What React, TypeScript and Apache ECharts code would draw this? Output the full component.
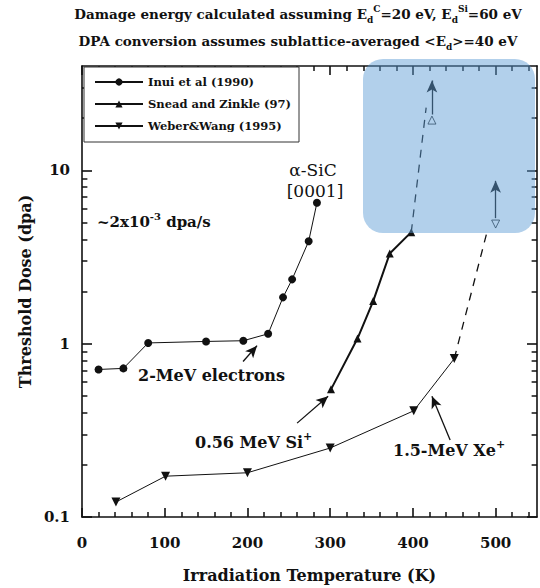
import React, { useEffect, useRef } from "react";
import * as echarts from "echarts";

const FONT = "'DejaVu Serif', 'Liberation Serif', serif";

// Data (temperature K, threshold dose dpa)
const inuiData: [number, number][] = [
  [20, 0.71], [50, 0.72], [80, 1.01], [150, 1.03], [195, 1.04], [225, 1.14],
  [243, 1.85], [254, 2.35], [274, 3.9], [284, 6.5],
];
const sneadData: [number, number][] = [
  [301, 0.545], [333, 1.07], [352, 1.76], [372, 3.31], [398, 4.4],
];
const weberData: [number, number][] = [
  [41, 0.122], [101, 0.172], [200, 0.18], [300, 0.25], [401, 0.41], [450, 0.82],
];
const sneadDashed: [number, number][] = [[398, 4.4], [416, 23]];
const weberDashed: [number, number][] = [[450, 0.82], [489, 4.3]];
const sneadOpen: [number, number][] = [[423, 19.5]];
const weberOpen: [number, number][] = [[500, 4.9]];

const seriesNames = ["Inui et al (1990)", "Snead and Zinkle (97)", "Weber&Wang (1995)"];

const xMajorTicks = [0, 100, 200, 300, 400, 500];
const xMinorTicks = [20, 40, 60, 80, 120, 140, 160, 180, 220, 240, 260, 280, 320, 340, 360, 380, 420, 440, 460, 480, 520, 540];
const yMajorTicks = [0.1, 1, 10];
const yMinorTicks = [0.2, 0.3, 0.4, 0.5, 0.6, 0.7, 0.8, 0.9, 2, 3, 4, 5, 6, 7, 8, 9, 20, 30];

// arrows: [from, to]
const arrowPairs: [[number, number], [number, number]][] = [
  [[423, 21], [423, 33]],
  [[500, 5.3], [500, 8.7]],
  [[194.7, 0.789], [211.6, 0.974]],
  [[260, 0.348], [297.5, 0.497]],
  [[445, 0.278], [423, 0.497]],
];

const X_MIN = 0, X_MAX = 550, Y_MIN = 0.1, Y_MAX = 40;
// minor tick length expressed in data units (x: temperature, y: multiplicative factor on log axis)
const X_TICK_LEN = 6.5;
const Y_TICK_FACTOR = 1.07;

function makeRich(size: number, weight: string) {
  const sm = Math.round(size * 0.66);
  return {
    n: { fontFamily: FONT, fontWeight: weight, fontSize: size, lineHeight: size + 7, fill: "#111", color: "#111" },
    sup: { fontFamily: FONT, fontWeight: weight, fontSize: sm, lineHeight: sm + 2, verticalAlign: "top", fill: "#111", color: "#111" },
    sub: { fontFamily: FONT, fontWeight: weight, fontSize: sm, lineHeight: sm + 2, verticalAlign: "bottom", fill: "#111", color: "#111" },
  };
}

export default function App() {
  const ref = useRef<HTMLDivElement>(null);
  useEffect(() => {
    if (!ref.current) return;
    const chart = echarts.init(ref.current, null, { renderer: "svg" });
    const mkLine = () => ({ show: true, onZero: false, lineStyle: { color: "#111", width: 1.6 } });
    const mkTick = (len: number, vals: number[]) => ({
      show: true, inside: true, length: len, customValues: vals, lineStyle: { color: "#111", width: 1.6 },
    });
    const richTitle = makeRich(13.5, "bold");
    const richLbl = makeRich(16, "bold");
    const richRate = makeRich(15, "bold");

    const minorTickLines: any[] = [];
    xMinorTicks.forEach((v) => {
      minorTickLines.push({ coords: [[v, Y_MIN], [v, Y_MIN * Y_TICK_FACTOR]] });
      minorTickLines.push({ coords: [[v, Y_MAX], [v, Y_MAX / Y_TICK_FACTOR]] });
    });
    yMinorTicks.forEach((v) => {
      minorTickLines.push({ coords: [[X_MIN, v], [X_MIN + X_TICK_LEN, v]] });
      minorTickLines.push({ coords: [[X_MAX, v], [X_MAX - X_TICK_LEN, v]] });
    });

    const option: any = {
      animation: false,
      backgroundColor: "#fff",
      grid: { left: 82, right: 3, top: 66, bottom: 68 },
      legend: {
        data: seriesNames,
        orient: "vertical",
        left: 84,
        top: 67,
        itemWidth: 48,
        itemHeight: 9,
        itemGap: 10,
        padding: [9, 8, 10, 10],
        backgroundColor: "#fff",
        borderColor: "#333",
        borderWidth: 1,
        textStyle: { fontFamily: FONT, fontWeight: "bold", fontSize: 11.5, color: "#111" },
      },
      xAxis: [
        {
          type: "value", min: X_MIN, max: X_MAX, position: "bottom",
          axisLine: mkLine(), splitLine: { show: false },
          axisTick: mkTick(9, xMajorTicks),
          axisLabel: { show: true, customValues: xMajorTicks, margin: 18, fontFamily: FONT, fontWeight: "bold", fontSize: 15, color: "#111" },
          name: "Irradiation Temperature (K)", nameLocation: "middle", nameGap: 50,
          nameTextStyle: { fontFamily: FONT, fontWeight: "bold", fontSize: 16, color: "#111" },
        },
        {
          type: "value", min: X_MIN, max: X_MAX, position: "top",
          axisLine: mkLine(), splitLine: { show: false },
          axisTick: mkTick(9, xMajorTicks),
          axisLabel: { show: false },
        },
      ],
      yAxis: [
        {
          type: "log", logBase: 10, min: Y_MIN, max: Y_MAX, position: "left",
          axisLine: mkLine(), splitLine: { show: false },
          axisTick: mkTick(10, yMajorTicks),
          axisLabel: { show: true, customValues: yMajorTicks, margin: 12, fontFamily: FONT, fontWeight: "bold", fontSize: 15, color: "#111",
            formatter: (v: number) => (v < 1 ? v.toFixed(1) : String(Math.round(v))) },
          name: "Threshold Dose (dpa)", nameLocation: "middle", nameGap: 46,
          nameTextStyle: { fontFamily: FONT, fontWeight: "bold", fontSize: 16, color: "#111" },
        },
        {
          type: "log", logBase: 10, min: Y_MIN, max: Y_MAX, position: "right",
          axisLine: mkLine(), splitLine: { show: false },
          axisTick: mkTick(10, yMajorTicks),
          axisLabel: { show: false },
        },
      ],
      series: [
        {
          name: "minor-ticks", type: "lines", coordinateSystem: "cartesian2d",
          lineStyle: { color: "#111", width: 1.5, opacity: 1 },
          data: minorTickLines,
        },
        {
          name: seriesNames[0], type: "line", data: inuiData, symbol: "circle", symbolSize: 8,
          lineStyle: { color: "#111", width: 1 }, itemStyle: { color: "#111" },
        },
        {
          name: seriesNames[1], type: "line", data: sneadData, symbol: "triangle", symbolSize: 8,
          lineStyle: { color: "#111", width: 2 }, itemStyle: { color: "#111" },
        },
        {
          name: seriesNames[2], type: "line", data: weberData, symbol: "triangle", symbolRotate: 180, symbolSize: 9,
          lineStyle: { color: "#111", width: 1 }, itemStyle: { color: "#111" },
        },
        {
          name: "snead-ext", type: "line", data: sneadDashed, symbol: "none",
          lineStyle: { color: "#111", width: 1.3, type: [8, 7] },
        },
        {
          name: "weber-ext", type: "line", data: weberDashed, symbol: "none",
          lineStyle: { color: "#111", width: 1.3, type: [8, 7] },
        },
        {
          name: "snead-open", type: "scatter", data: sneadOpen, symbol: "triangle", symbolSize: 8,
          itemStyle: { color: "#fff", borderColor: "#111", borderWidth: 1 },
        },
        {
          name: "weber-open", type: "scatter", data: weberOpen, symbol: "triangle", symbolRotate: 180, symbolSize: 8,
          itemStyle: { color: "#fff", borderColor: "#111", borderWidth: 1 },
        },
        {
          name: "arrows", type: "line", data: [],
          markLine: {
            silent: true, symbol: ["none", "arrow"], symbolSize: [8, 12],
            lineStyle: { color: "#111", width: 1.3, type: "solid" },
            label: { show: false },
            data: arrowPairs.map(([a, b]) => [{ coord: a }, { coord: b }]),
          },
        },
      ],
      graphic: [
        {
          type: "text",
          style: {
            text: "{n|Damage energy calculated assuming E}{sub|d}{sup|C}{n|=20 eV, E}{sub|d}{sup|Si}{n|=60 eV}",
            rich: richTitle, x: 298, y: 4, align: "center",
          },
        },
        {
          type: "text",
          style: {
            text: "{n|DPA conversion assumes sublattice-averaged <E}{sub|d}{n|>=40 eV}",
            rich: richTitle, x: 298, y: 31, align: "center",
          },
        },
        {
          type: "text",
          style: { text: "{n|~2x10}{sup|-3}{n| dpa/s}", rich: richRate, x: 97, y: 222, verticalAlign: "middle" },
        },
        {
          type: "text",
          style: { text: "{n|2-MeV electrons}", rich: richLbl, x: 138, y: 375, verticalAlign: "middle" },
        },
        {
          type: "text",
          style: { text: "{n|0.56 MeV Si}{sup|+}", rich: richLbl, x: 195, y: 442, verticalAlign: "middle" },
        },
        {
          type: "text",
          style: { text: "{n|1.5-MeV Xe}{sup|+}", rich: richLbl, x: 393, y: 450, verticalAlign: "middle" },
        },
        {
          type: "text",
          style: { text: "α-SiC", x: 313, y: 170, align: "center", verticalAlign: "middle", font: `17px ${FONT}`, fill: "#111" },
        },
        {
          type: "text",
          style: { text: "[0001]", x: 315, y: 191, align: "center", verticalAlign: "middle", font: `17px ${FONT}`, fill: "#111" },
        },
        {
          type: "rect", z: 100,
          shape: { x: 363, y: 59, width: 172, height: 174, r: 20 },
          style: { fill: "rgba(91,155,213,0.47)" },
        },
      ],
    };
    chart.setOption(option);
    return () => chart.dispose();
  }, []);
  return (
    <div
      ref={ref}
      style={{ position: "fixed", left: 0, top: 0, width: 540, height: 588, background: "#fff" }}
    />
  );
}
